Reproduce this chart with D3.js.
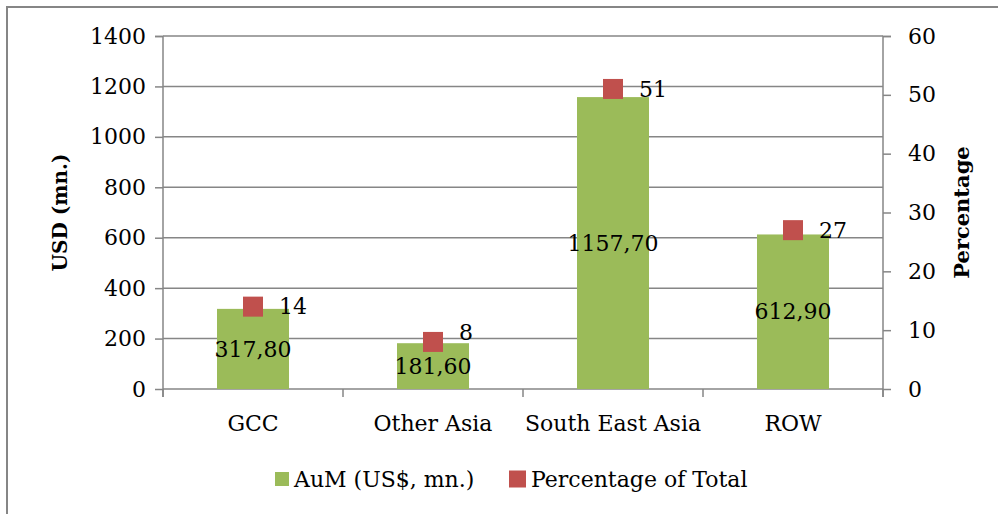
<!DOCTYPE html>
<html>
<head>
<meta charset="utf-8">
<script src="https://cdn.jsdelivr.net/npm/d3@7"></script>
<style>
  html, body { margin: 0; padding: 0; background: #fff; }
  svg { display: block; }
  text { font-family: "DejaVu Serif", serif; fill: #000; }
</style>
</head>
<body>
<svg id="chart" width="998" height="514"></svg>
<script>
// Islamic fund assets under management by region
const categories = ["GCC", "Other Asia", "South East Asia", "ROW"];
const aumValues = [317.80, 181.60, 1157.70, 612.90];
const pctValues = [14, 8, 51, 27];
const leftTicks = [0, 200, 400, 600, 800, 1000, 1200, 1400];
const rightTicks = [0, 10, 20, 30, 40, 50, 60];
const seriesNames = ["AuM (US$, mn.)", "Percentage of Total"];

const W = 998, H = 514;
const margin = { left: 163, right: 115, top: 36, bottom: 125 };
const plotW = W - margin.left - margin.right;
const plotH = H - margin.top - margin.bottom;

const GRID = "#868686";
const GREEN = "#9BBB59";
const RED = "#C0504D";
const FS = 22;

const commaLocale = d3.formatLocale({ decimal: ",", thousands: "", grouping: [3], currency: ["", ""] });
const fmtAum = commaLocale.format(".2f");

const svg = d3.select("#chart");

// outer chart frame
svg.append("path")
  .attr("d", `M7,${H} L7,7 L${W},7`)
  .attr("fill", "none")
  .attr("stroke", GRID)
  .attr("stroke-width", 2);

const g = svg.append("g").attr("transform", `translate(${margin.left},${margin.top})`);

const x = d3.scaleBand().domain(categories).range([0, plotW]).paddingInner(0.6).paddingOuter(0.3);
const xOuter = d3.scaleBand().domain(categories).range([0, plotW]);
const yL = d3.scaleLinear().domain([0, 1400]).range([plotH, 0]);
const yR = d3.scaleLinear().domain([0, 60]).range([plotH, 0]);

// horizontal gridlines
g.append("g").selectAll("line").data(leftTicks.filter(d => d > 0)).join("line")
  .attr("x1", 0).attr("x2", plotW)
  .attr("y1", d => yL(d)).attr("y2", d => yL(d))
  .attr("stroke", GRID).attr("stroke-width", 1.5);

// left axis
const axL = g.append("g")
  .call(d3.axisLeft(yL).tickValues(leftTicks).tickSize(8).tickPadding(9).tickFormat(d3.format("d")));
axL.select(".domain").attr("stroke", GRID).attr("stroke-width", 1.5).attr("d", `M-8,0.5H0V${plotH + 8}`);
axL.selectAll(".tick line").attr("stroke", GRID).attr("stroke-width", 1.5);
axL.selectAll(".tick text").style("font-size", FS + "px").style("font-family", "DejaVu Serif");

// right axis
const axR = g.append("g").attr("transform", `translate(${plotW},0)`)
  .call(d3.axisRight(yR).tickValues(rightTicks).tickSize(8).tickPadding(17).tickFormat(d3.format("d")));
axR.select(".domain").attr("stroke", GRID).attr("stroke-width", 1.5).attr("d", `M8,0.5H0V${plotH + 8}`);
axR.selectAll(".tick line").attr("stroke", GRID).attr("stroke-width", 1.5);
axR.selectAll(".tick text").style("font-size", FS + "px").style("font-family", "DejaVu Serif");

// category axis with ticks between bands
const boundaries = categories.map(c => xOuter(c)).concat([plotW]);
g.append("line").attr("x1", 0).attr("x2", plotW).attr("y1", plotH).attr("y2", plotH)
  .attr("stroke", GRID).attr("stroke-width", 1.5);
g.append("g").selectAll("line").data(boundaries).join("line")
  .attr("x1", d => d).attr("x2", d => d)
  .attr("y1", plotH).attr("y2", plotH + 8)
  .attr("stroke", GRID).attr("stroke-width", 1.5);
g.append("g").selectAll("text").data(categories).join("text")
  .attr("x", d => x(d) + x.bandwidth() / 2)
  .attr("y", plotH + 34)
  .attr("dy", "0.35em")
  .attr("text-anchor", "middle")
  .style("font-size", FS + "px")
  .text(d => d);

// bars
g.append("g").selectAll("rect").data(categories).join("rect")
  .attr("x", d => x(d))
  .attr("width", x.bandwidth())
  .attr("y", (d, i) => yL(aumValues[i]))
  .attr("height", (d, i) => plotH - yL(aumValues[i]))
  .attr("fill", GREEN);

// bar value labels (centred in bar)
g.append("g").selectAll("text").data(categories).join("text")
  .attr("x", d => x(d) + x.bandwidth() / 2)
  .attr("y", (d, i) => (yL(aumValues[i]) + plotH) / 2)
  .attr("dy", "0.35em")
  .attr("text-anchor", "middle")
  .style("font-size", FS + "px")
  .text((d, i) => fmtAum(aumValues[i]));

// percentage markers
const M = 20;
g.append("g").selectAll("rect").data(categories).join("rect")
  .attr("x", d => x(d) + x.bandwidth() / 2 - M / 2)
  .attr("y", (d, i) => yR(pctValues[i]) - M / 2)
  .attr("width", M).attr("height", M)
  .attr("fill", RED);

g.append("g").selectAll("text").data(categories).join("text")
  .attr("x", d => x(d) + x.bandwidth() / 2 + 26)
  .attr("y", (d, i) => yR(pctValues[i]) - (pctValues[i] < 10 ? 10 : 0))
  .attr("dy", "0.35em")
  .style("font-size", FS + "px")
  .text((d, i) => pctValues[i]);

// axis titles
svg.append("text")
  .attr("transform", `translate(67,${margin.top + plotH / 2}) rotate(-90)`)
  .attr("text-anchor", "middle")
  .style("font-size", "20px").style("font-weight", "bold")
  .text("USD (mn.)");
svg.append("text")
  .attr("transform", `translate(969,${margin.top + plotH / 2}) rotate(-90)`)
  .attr("text-anchor", "middle")
  .style("font-size", "21px").style("font-weight", "bold")
  .text("Percentage");

// legend
const legend = svg.append("g").attr("transform", "translate(275,479)");
const items = [
  { name: seriesNames[0], color: GREEN, size: 14, x: 0 },
  { name: seriesNames[1], color: RED, size: 17, x: 234 }
];
items.forEach(it => {
  legend.append("rect")
    .attr("x", it.x).attr("y", -it.size / 2)
    .attr("width", it.size).attr("height", it.size)
    .attr("fill", it.color);
  legend.append("text")
    .attr("x", it.x + it.size + 5).attr("y", 0).attr("dy", "0.35em")
    .style("font-size", FS + "px")
    .text(it.name);
});
</script>
</body>
</html>
